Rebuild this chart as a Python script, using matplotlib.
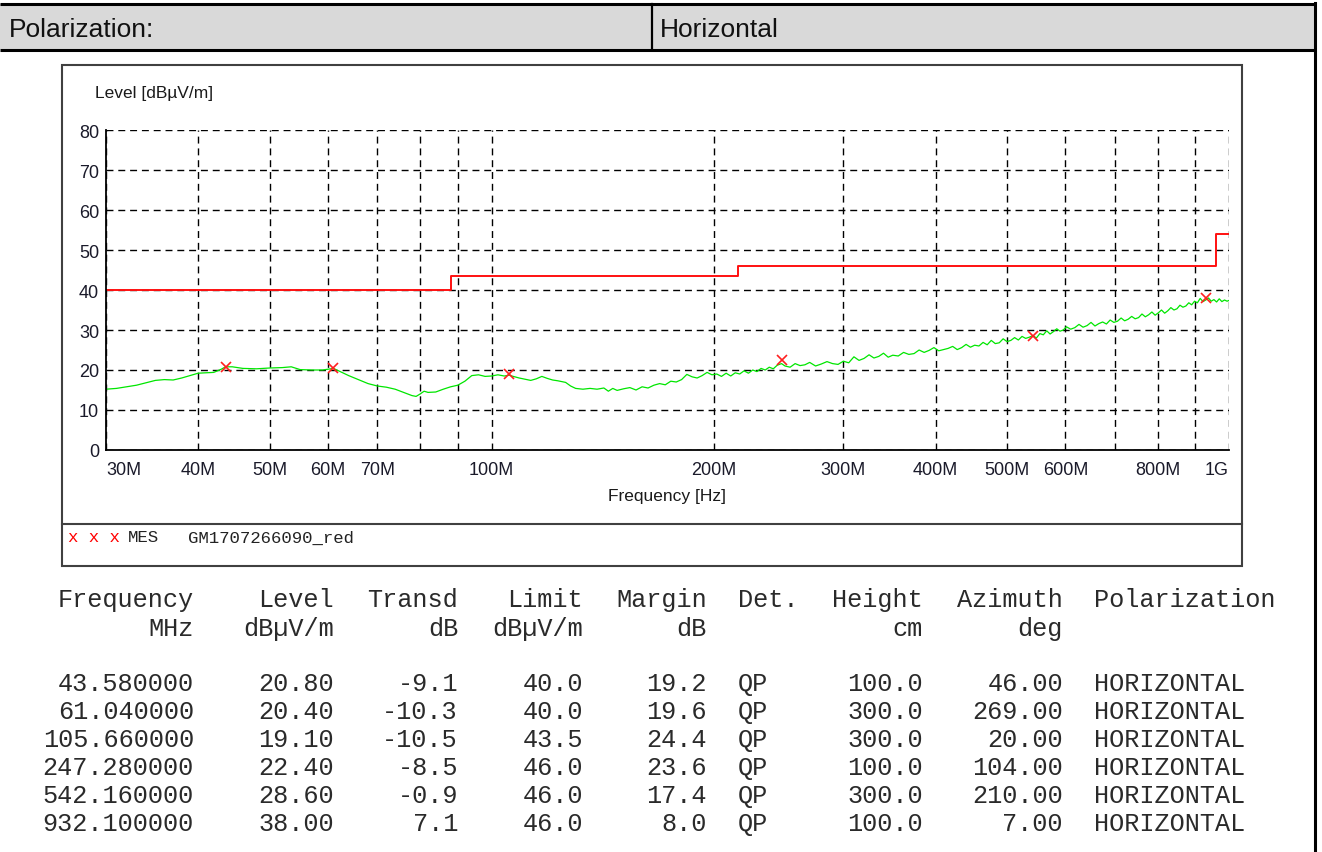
import matplotlib
matplotlib.use("Agg")
import matplotlib.pyplot as plt
from matplotlib.patches import Rectangle

# peak scan, frequency in MHz, level in dBuV/m
scan_freq = [30, 31, 32, 33, 34, 35, 36, 37, 38, 39, 40, 41, 42, 43, 43.58, 44.5, 46, 48, 50, 52,
             53.5, 55, 57, 59, 60, 61.04, 62, 64, 66, 68, 70, 72, 74, 76, 78, 79, 80, 81, 82, 84,
             86, 88, 90, 92, 94, 96, 98, 100, 102, 104, 105.66, 107, 109, 111, 113, 115, 117, 119, 121, 123,
             126, 128, 130, 133, 136, 139, 142, 144, 146, 148, 151, 154, 157, 160, 163, 166, 169, 172, 175, 178,
             181, 184, 187, 190, 193, 196, 199, 202, 205, 208, 211, 214, 217, 220, 223, 226, 229, 232, 235, 238,
             241, 244, 247.28, 250, 254, 258, 262, 266, 270, 275, 280, 285, 290, 295, 300, 305, 310, 315, 320, 325,
             330, 335, 340, 345, 350, 356, 362, 368, 374, 380, 386, 392, 398, 404, 410, 416, 422, 428, 434, 440,
             446, 452, 458, 464, 470, 476, 482, 488, 494, 500, 506, 512, 518, 524, 530, 536, 542, 548, 554, 560,
             566, 572, 578, 584, 590, 596, 602, 610, 618, 626, 634, 642, 650, 658, 666, 674, 682, 690, 698, 706,
             714, 722, 730, 738, 746, 754, 762, 770, 778, 786, 794, 802, 810, 818, 826, 834, 842, 850, 858, 866,
             874, 882, 890, 898, 906, 914, 922, 930, 938, 946, 954, 962, 970, 978, 986, 994, 1000]
scan_level = [15.2, 15.4, 15.8, 16.2, 16.8, 17.4, 17.6, 17.5, 18.0, 18.6, 19.2, 19.3, 19.4, 20.2, 20.8, 20.8, 20.4, 20.3, 20.5, 20.6,
              20.8, 20.1, 20.0, 20.0, 20.2, 20.4, 19.8, 18.6, 17.6, 16.6, 16.0, 15.7, 15.2, 14.4, 13.6, 13.4, 14.0, 14.7, 14.4, 14.5,
              15.2, 15.8, 16.2, 17.2, 18.6, 18.8, 18.4, 18.5, 18.8, 18.5, 18.7, 18.4, 18.0, 17.7, 17.4, 17.8, 18.4, 17.9, 17.5, 17.3,
              16.9, 16.0, 15.4, 15.2, 15.4, 15.2, 15.5, 14.7, 15.4, 14.9, 15.3, 15.6, 15.0, 15.8, 15.5, 16.2, 16.6, 16.3, 17.2, 17.0,
              17.6, 18.9, 18.3, 18.0, 18.6, 19.4, 18.8, 19.0, 18.4, 19.2, 18.5, 19.3, 19.0, 19.8, 19.2, 20.0, 19.6, 20.4, 20.0, 20.7,
              20.3, 21.2, 21.6, 21.0, 20.7, 21.6, 21.1, 21.3, 21.9, 21.0, 21.5, 22.1, 21.6, 21.4, 22.2, 21.8, 23.3, 22.4, 22.9, 23.8,
              23.0, 23.4, 24.2, 23.2, 23.7, 23.5, 24.4, 23.9, 24.1, 25.0, 24.4, 24.9, 25.6, 24.8, 25.1, 25.4, 25.9, 25.1, 25.6, 26.4,
              25.7, 26.2, 26.0, 26.9, 26.3, 27.4, 26.6, 26.8, 27.8, 27.1, 27.4, 28.1, 27.5, 28.4, 27.9, 28.2, 28.6, 28.0, 29.1, 28.8,
              29.8, 29.0, 29.6, 30.3, 29.7, 30.0, 30.8, 30.2, 30.6, 31.4, 30.7, 31.1, 31.9, 31.0, 31.6, 32.0, 31.5, 32.5, 31.9, 32.2,
              33.0, 32.3, 32.7, 33.4, 32.8, 33.1, 34.0, 33.3, 33.8, 34.5, 33.7, 34.3, 35.0, 34.2, 34.8, 35.6, 35.0, 35.3, 36.2, 35.7,
              36.0, 36.8, 36.3, 37.2, 36.8, 37.9, 37.1, 37.5, 38.0, 37.2, 37.6, 37.0, 37.8, 37.1, 37.5, 37.2, 37.4]

# limit line (step edges in MHz)
limit_freq = [30, 88, 216, 960, 1000]
limit_level = [40.0, 43.5, 46.0, 54.0, 54.0]

# final QP measurements
mes_freq = [43.58, 61.04, 105.66, 247.28, 542.16, 932.10]
mes_level = [20.80, 20.40, 19.10, 22.40, 28.60, 38.00]
mes_transd = [-9.1, -10.3, -10.5, -8.5, -0.9, 7.1]
mes_limit = [40.0, 40.0, 43.5, 46.0, 46.0, 46.0]
mes_margin = [19.2, 19.6, 24.4, 23.6, 17.4, 8.0]
mes_det = ["QP", "QP", "QP", "QP", "QP", "QP"]
mes_height = [100.0, 300.0, 300.0, 100.0, 300.0, 100.0]
mes_azimuth = [46.00, 269.00, 20.00, 104.00, 210.00, 7.00]
mes_pol = ["HORIZONTAL"] * 6

xtick_vals = [30, 40, 50, 60, 70, 80, 90, 100, 200, 300, 400, 500, 600, 700, 800, 900, 1000]
xtick_labels = ["30M", "40M", "50M", "60M", "70M", "", "", "100M", "200M", "300M",
                "400M", "500M", "600M", "", "800M", "", "1G"]
ytick_vals = [0, 10, 20, 30, 40, 50, 60, 70, 80]

W, H = 1322, 853
fig = plt.figure(figsize=(W / 100, H / 100), dpi=100)
plt.rcParams['font.family'] = ['Liberation Sans', 'DejaVu Sans']
mono = ['Liberation Mono', 'DejaVu Sans Mono']

# page layer in pixel coordinates
bg = fig.add_axes([0, 0, 1, 1], zorder=0)
bg.set_xlim(0, W)
bg.set_ylim(H, 0)
bg.axis('off')

bg.add_patch(Rectangle((0, 5), 1314, 45, facecolor='#d9d9d9', edgecolor='none'))
bg.plot([0, 1315], [5, 5], color='black', lw=2.2, solid_capstyle='butt')
bg.plot([0, 1315], [50.5, 50.5], color='black', lw=2.2, solid_capstyle='butt')
bg.plot([652, 652], [5, 50.5], color='black', lw=1.6)
bg.plot([1314.5, 1314.5], [4, H], color='black', lw=2.2)
bg.text(9, 37, "Polarization:", fontsize=19, va='baseline', ha='left', color='#111')
bg.text(660, 37, "Horizontal", fontsize=19, va='baseline', ha='left', color='#111')

# chart frame and legend strip
bg.add_patch(Rectangle((62, 66), 1180, 501, facecolor='white', edgecolor='#404040', lw=1.5))
bg.plot([62, 1242], [525, 525], color='#404040', lw=1.5)
bg.text(95, 93, "Level [dB\u00b5V/m]", fontsize=12.5, va='center', ha='left', color='#1a1a1a')
bg.text(667, 497, "Frequency [Hz]", fontsize=12.5, va='center', ha='center', color='#1a1a1a')
bg.text(68, 538, "x x x", fontsize=12.5, family=mono, color='red', va='center', ha='left')
bg.text(128, 538, "MES", fontsize=12.5, family=mono, color='#222', va='center', ha='left')
bg.text(188, 538, "GM1707266090_red", fontsize=12.5, family=mono, color='#222', va='center', ha='left')

# measurement table
tfs = 18.2
col_hdr = ["Frequency", "Level", "Transd", "Limit", "Margin", "Det.", "Height", "Azimuth", "Polarization"]
col_unit = ["MHz", "dB\u00b5V/m", "dB", "dB\u00b5V/m", "dB", "", "cm", "deg", ""]
col_x = [194, 334, 458, 583, 707, 738, 923, 1063, 1094]
col_ha = ["right", "right", "right", "right", "right", "left", "right", "right", "left"]
for hdr, unit, cx, ha in zip(col_hdr, col_unit, col_x, col_ha):
    bg.text(cx, 607, hdr, fontsize=tfs, family=mono, ha=ha, va='baseline', color='#2a2a2a')
    bg.text(cx, 636, unit, fontsize=tfs, family=mono, ha=ha, va='baseline', color='#2a2a2a')

row_y = [691, 719, 747, 775, 803, 831]
for i, ry in enumerate(row_y):
    cells = ["%.6f" % mes_freq[i], "%.2f" % mes_level[i], "%.1f" % mes_transd[i],
             "%.1f" % mes_limit[i], "%.1f" % mes_margin[i], mes_det[i],
             "%.1f" % mes_height[i], "%.2f" % mes_azimuth[i], mes_pol[i]]
    for txt, cx, ha in zip(cells, col_x, col_ha):
        bg.text(cx, ry, txt, fontsize=tfs, family=mono, ha=ha, va='baseline', color='#2a2a2a')

# plot area
ax = fig.add_axes([106 / W, 1 - 451 / H, 1123 / W, 320 / H], zorder=1)
ax.patch.set_alpha(0)
ax.set_xscale('log')
ax.set_xlim(30, 1000)
ax.set_ylim(0, 80)
ax.minorticks_off()
ax.set_xticks(xtick_vals)
ax.set_xticklabels(xtick_labels)
ax.set_yticks(ytick_vals)
ax.tick_params(length=0, labelsize=13, labelcolor='#1a1a2a')
ax.tick_params(axis='x', pad=8)
ax.tick_params(axis='y', pad=5)
xl = ax.get_xticklabels()
xl[0].set_ha('left')
xl[-1].set_ha('right')
ax.grid(True, color='black', lw=1.0, linestyle=(0, (5, 3.5)))
for s in ['top', 'right']:
    ax.spines[s].set_visible(False)
for s in ['left', 'bottom']:
    ax.spines[s].set_linewidth(1.3)
    ax.spines[s].set_zorder(5)

ax.step(limit_freq, limit_level, where='post', color='#ff1010', lw=1.4, zorder=3)
ax.plot(scan_freq, scan_level, color='#00e600', lw=0.9, zorder=3)
ax.plot(mes_freq, mes_level, linestyle='none', marker='x', color='#ff2020',
        markersize=7, markeredgewidth=1.2, zorder=4)

fig.savefig("out.png", dpi=100)
